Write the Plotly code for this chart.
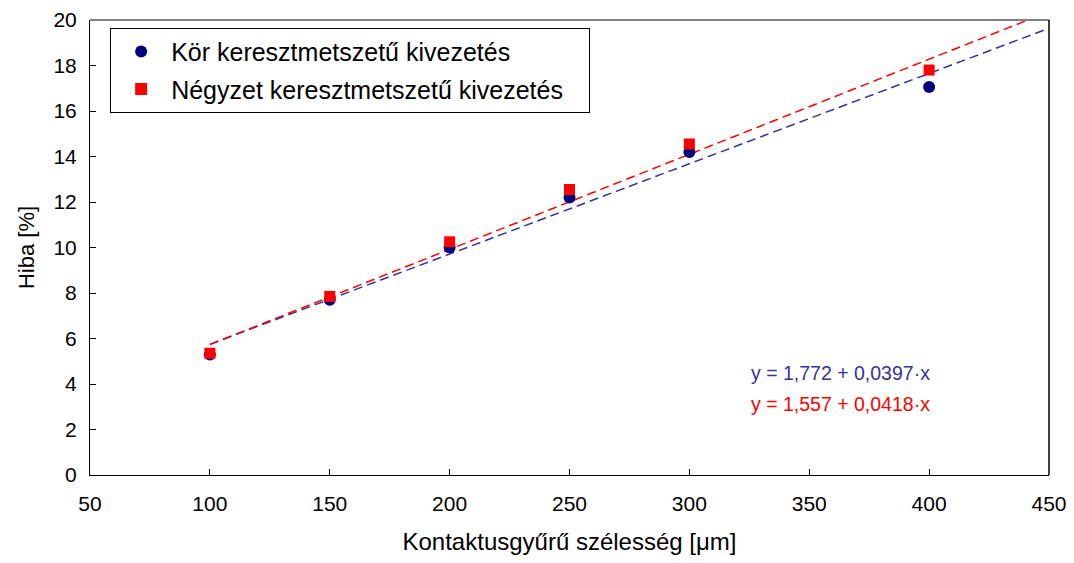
import plotly.graph_objects as go

x_vals = [100, 150, 200, 250, 300, 400]
kor_vals = [5.3, 7.7, 10.0, 12.2, 14.2, 17.05]
negyzet_vals = [5.35, 7.85, 10.25, 12.55, 14.55, 17.8]

fit_kor = (1.772, 0.0397)
fit_negyzet = (1.557, 0.0418)
fit_x = [100, 450]

x_ticks = [50, 100, 150, 200, 250, 300, 350, 400, 450]
y_ticks = [0, 2, 4, 6, 8, 10, 12, 14, 16, 18, 20]

FONT = "Liberation Sans, Arial, sans-serif"
NAVY = "#000080"
LINE_NAVY = "#3333a0"
RED = "#ff0000"

fig = go.Figure()
fig.add_trace(go.Scatter(x=fit_x, y=[fit_kor[0] + fit_kor[1] * v for v in fit_x],
                         mode="lines", line=dict(color=LINE_NAVY, width=1.5, dash="9px,5px"),
                         showlegend=False, hoverinfo="skip"))
fig.add_trace(go.Scatter(x=fit_x, y=[fit_negyzet[0] + fit_negyzet[1] * v for v in fit_x],
                         mode="lines", line=dict(color=RED, width=1.5, dash="9px,5px"),
                         showlegend=False, hoverinfo="skip"))
fig.add_trace(go.Scatter(x=x_vals, y=kor_vals, mode="markers",
                         marker=dict(symbol="circle", size=12, color=NAVY),
                         name="Kör keresztmetszetű kivezetés", legendgroup="a"))
fig.add_trace(go.Scatter(x=x_vals, y=negyzet_vals, mode="markers",
                         marker=dict(symbol="square", size=11, color=RED),
                         name="Négyzet keresztmetszetű kivezetés\u00a0\u00a0\u00a0", legendgroup="b"))

fig.add_shape(type="line", xref="paper", yref="paper", x0=0, x1=1, y0=1, y1=1,
              line=dict(color="#808080", width=2))
fig.add_shape(type="line", xref="paper", yref="paper", x0=1, x1=1, y0=0, y1=1,
              line=dict(color="black", width=1.5))

fig.add_annotation(x=0.687, y=0.225, xref="paper", yref="paper", xanchor="left", yanchor="middle",
                   text="y = 1,772 + 0,0397·x", showarrow=False,
                   font=dict(family=FONT, size=19.5, color="#333399"))
fig.add_annotation(x=0.687, y=0.155, xref="paper", yref="paper", xanchor="left", yanchor="middle",
                   text="y = 1,557 + 0,0418·x", showarrow=False,
                   font=dict(family=FONT, size=19.5, color=RED))

fig.update_layout(
    width=1074, height=563,
    margin=dict(l=90, r=25, t=20, b=88, autoexpand=False),
    paper_bgcolor="white", plot_bgcolor="white",
    font=dict(family=FONT, size=21, color="black"),
    showlegend=True,
    legend=dict(x=0.021, y=0.983, xanchor="left", yanchor="top",
                bordercolor="black", borderwidth=1, bgcolor="white",
                font=dict(family=FONT, size=25, color="black"),
                tracegroupgap=2, itemsizing="constant", itemwidth=50),
    xaxis=dict(range=[50, 450], tickvals=x_ticks, ticktext=[str(v) for v in x_ticks],
               ticks="inside", ticklen=6, tickcolor="black", showgrid=False, zeroline=False,
               showline=True, linecolor="black", linewidth=1, mirror=False, automargin=False,
               tickfont=dict(size=21), ticklabelstandoff=10,
               title=dict(text="Kontaktusgyűrű szélesség [μm]", font=dict(size=24), standoff=18)),
    yaxis=dict(range=[0, 20], tickvals=y_ticks, ticks="inside", ticklen=6, tickcolor="black",
               showgrid=False, zeroline=False, showline=True, linecolor="black", linewidth=1,
               automargin=False,
               tickfont=dict(size=21), ticklabelstandoff=8,
               title=dict(text="Hiba [%]", font=dict(size=22), standoff=12)),
)

fig.write_html("out.html")
